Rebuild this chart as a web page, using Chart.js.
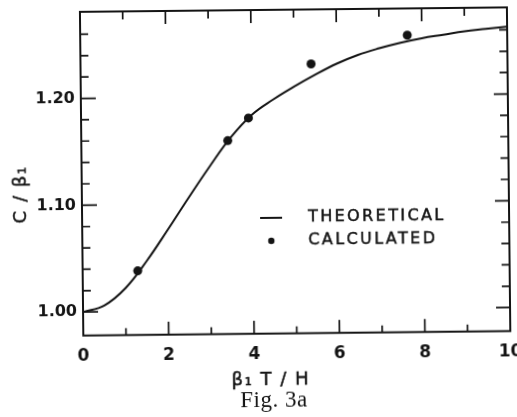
<!DOCTYPE html>
<html>
<head>
<meta charset="utf-8">
<script src="https://cdn.jsdelivr.net/npm/chart.js@4.4.1/dist/chart.umd.min.js"></script>
<style>
  html, body { margin: 0; padding: 0; background: #fff; overflow: hidden; }
  #wrap { width: 517px; height: 417px; transform: rotate(-0.6deg); }
</style>
</head>
<body>
<div id="wrap"><canvas id="fig" width="517" height="417"></canvas></div>
<script>
// axis ticks
const xTicks = [0, 2, 4, 6, 8, 10];
const xMinor = [1, 3, 5, 7, 9];
const yTicks = [1.00, 1.10, 1.20];
const yMinor = [1.02, 1.04, 1.06, 1.08, 1.12, 1.14, 1.16, 1.18, 1.22, 1.24, 1.26];

// theoretical curve, C/beta1 against beta1 T/H
const theoryX = [0, 0.5, 1, 1.5, 2, 2.5, 3, 3.5, 4, 4.5, 5, 5.5, 6, 6.5, 7, 7.5, 8, 8.5, 9, 9.5, 10];
const theoryY = [1.000, 1.006, 1.022, 1.047, 1.076, 1.106, 1.135, 1.162, 1.183, 1.197, 1.209,
                 1.220, 1.230, 1.238, 1.244, 1.249, 1.253, 1.256, 1.259, 1.261, 1.263];

// calculated points
const calcX = [1.29, 3.43, 3.92, 5.40, 7.66];
const calcY = [1.038, 1.159, 1.180, 1.230, 1.256];

const ink = '#141414';
const sans = '"DejaVu Sans", sans-serif';

const toPoints = (xs, ys) => xs.map((v, i) => ({ x: v, y: ys[i] }));

// lettering is a bit heavier than the regular face, so outline it lightly
function letter(ctx, text, x, y) {
    ctx.fillText(text, x, y);
    ctx.strokeText(text, x, y);
}

const frameAndLabels = {
    id: 'frameAndLabels',
    afterDraw(chart) {
        const { ctx, chartArea: a, scales: { x, y } } = chart;
        ctx.save();
        ctx.strokeStyle = ink;
        ctx.fillStyle = ink;

        // box
        ctx.lineWidth = 2;
        ctx.strokeRect(a.left, a.top, a.right - a.left, a.bottom - a.top);

        // inward tick marks on all four sides
        ctx.lineWidth = 1.7;
        ctx.beginPath();
        xTicks.slice(1, -1).forEach(v => {
            const px = x.getPixelForValue(v);
            ctx.moveTo(px, a.bottom); ctx.lineTo(px, a.bottom - 13);
            ctx.moveTo(px, a.top); ctx.lineTo(px, a.top + 13);
        });
        xMinor.forEach(v => {
            const px = x.getPixelForValue(v);
            ctx.moveTo(px, a.bottom); ctx.lineTo(px, a.bottom - 7);
            ctx.moveTo(px, a.top); ctx.lineTo(px, a.top + 8);
        });
        yTicks.forEach(v => {
            const py = y.getPixelForValue(v);
            ctx.moveTo(a.left, py); ctx.lineTo(a.left + 15, py);
            ctx.moveTo(a.right, py); ctx.lineTo(a.right - 14, py);
        });
        yMinor.forEach(v => {
            const py = y.getPixelForValue(v);
            ctx.moveTo(a.left, py); ctx.lineTo(a.left + 8, py);
            ctx.moveTo(a.right, py); ctx.lineTo(a.right - 8, py);
        });
        ctx.stroke();

        // legend
        ctx.lineWidth = 2;
        ctx.beginPath();
        ctx.moveTo(260, 218); ctx.lineTo(282, 218);
        ctx.stroke();
        ctx.beginPath();
        ctx.arc(271, 241, 3.2, 0, Math.PI * 2);
        ctx.fill();

        ctx.lineWidth = 0.5;
        ctx.font = '16px ' + sans;
        ctx.textBaseline = 'middle';
        ctx.textAlign = 'left';
        ctx.letterSpacing = '2.4px';
        letter(ctx, 'THEORETICAL', 308, 218);
        letter(ctx, 'CALCULATED', 308, 241);

        // axis titles
        ctx.font = '18px ' + sans;
        ctx.letterSpacing = '1.5px';
        ctx.textAlign = 'center';
        letter(ctx, '\u03b2\u2081 T / H', 269, 380);

        ctx.save();
        ctx.translate(21, 192);
        ctx.rotate(-Math.PI / 2);
        letter(ctx, 'C / \u03b2\u2081', 0, 0);
        ctx.restore();

        // caption
        ctx.letterSpacing = '0.5px';
        ctx.font = '23px "Liberation Serif", serif';
        ctx.fillText('Fig. 3a', 272, 401);
        ctx.restore();
    }
};

new Chart(document.getElementById('fig'), {
    type: 'scatter',
    data: {
        datasets: [
            {
                label: 'THEORETICAL',
                data: toPoints(theoryX, theoryY),
                showLine: true,
                borderColor: ink,
                borderWidth: 2,
                pointRadius: 0,
                tension: 0.4
            },
            {
                label: 'CALCULATED',
                data: toPoints(calcX, calcY),
                showLine: false,
                backgroundColor: ink,
                borderColor: ink,
                pointRadius: 4.5,
                pointBorderWidth: 0
            }
        ]
    },
    options: {
        responsive: false,
        animation: false,
        layout: { padding: { left: 0, right: 8, top: 10, bottom: 0 } },
        plugins: {
            legend: { display: false },
            tooltip: { enabled: false }
        },
        scales: {
            x: {
                type: 'linear',
                min: 0,
                max: 10,
                afterBuildTicks: scale => { scale.ticks = xTicks.map(v => ({ value: v })); },
                afterFit: scale => {
                    scale.height = 83.3;
                    scale.paddingLeft = 0;
                    scale.paddingRight = 0;
                },
                grid: { display: false, drawTicks: false },
                border: { display: false },
                ticks: {
                    color: ink,
                    padding: 11,
                    maxRotation: 0,
                    font: { family: sans, size: 17, weight: 'bold' },
                    callback: v => String(v)
                }
            },
            y: {
                type: 'linear',
                min: 0.978,
                max: 1.281,
                afterBuildTicks: scale => { scale.ticks = yTicks.map(v => ({ value: v })); },
                afterFit: scale => {
                    scale.width = 82;
                    scale.paddingTop = 0;
                    scale.paddingBottom = 0;
                },
                grid: { display: false, drawTicks: false },
                border: { display: false },
                ticks: {
                    color: ink,
                    padding: 6,
                    font: { family: sans, size: 16, weight: 'bold' },
                    callback: v => v.toFixed(2)
                }
            }
        }
    },
    plugins: [frameAndLabels]
});
</script>
</body>
</html>
